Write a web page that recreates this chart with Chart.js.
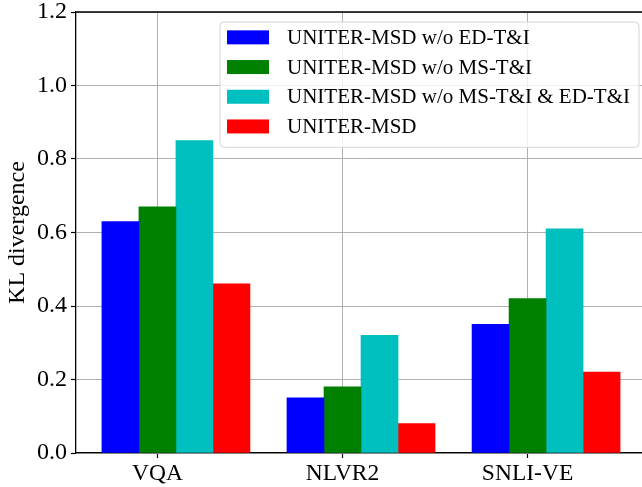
<!DOCTYPE html>
<html><head><meta charset="utf-8">
<script src="https://cdn.jsdelivr.net/npm/chart.js@4.4.0/dist/chart.umd.min.js"></script>
<style>html,body{margin:0;padding:0;overflow:hidden;background:#fff}#wrap{width:662px;height:487px}</style>
</head><body><div id="wrap"><canvas id="c" width="662" height="487"></canvas></div>
<script>
const categories = ['VQA', 'NLVR2', 'SNLI-VE'];
const seriesNames = ['UNITER-MSD w/o ED-T&I', 'UNITER-MSD w/o MS-T&I', 'UNITER-MSD w/o MS-T&I & ED-T&I', 'UNITER-MSD'];
const woED = [0.63, 0.15, 0.35];
const woMS = [0.67, 0.18, 0.42];
const woBoth = [0.85, 0.32, 0.61];
const full = [0.46, 0.08, 0.22];
const yTicks = [0.0, 0.2, 0.4, 0.6, 0.8, 1.0, 1.2];

const seriesValues = [woED, woMS, woBoth, full];
const colors = ['#0000ff', '#008000', '#00bfbf', '#ff0000'];
const FONT = '"Liberation Serif", "Times New Roman", serif';
const barW = 0.2;

Chart.defaults.font.family = FONT;
Chart.defaults.color = '#000';

const datasets = seriesValues.map((vals, k) => ({
  label: seriesNames[k],
  data: vals.map((v, i) => ({ x: i + (k - 1) * barW, y: v })),
  backgroundColor: colors[k],
  borderWidth: 0,
  grouped: false,
  barPercentage: 1,
  categoryPercentage: 1
}));

const framePlugin = {
  id: 'frame',
  afterDraw(chart) {
    const { ctx, chartArea: a } = chart;
    ctx.save();
    ctx.strokeStyle = '#000';
    ctx.lineWidth = 1.3;
    ctx.beginPath();
    ctx.moveTo(a.left, a.top); ctx.lineTo(a.right, a.top); ctx.lineTo(a.right, a.bottom);
    ctx.stroke();
    // legend
    ctx.font = '21px ' + FONT;
    const names = chart.data.datasets.map(d => d.label);
    const tw = Math.max(...names.map(n => ctx.measureText(n).width));
    const padL = 7, sw = 42, sh = 14, gap = 18, padR = 9, rowH = 29.7, padT = 0.5, padB = 6;
    const w = padL + sw + gap + tw + padR;
    const h = padT + rowH * names.length + padB;
    const x0 = a.right - 7 - w, y0 = a.top + 10;
    ctx.beginPath();
    ctx.roundRect(x0, y0, w, h, 4);
    ctx.fillStyle = 'rgba(255,255,255,0.8)';
    ctx.fill();
    ctx.strokeStyle = '#d5d5d5';
    ctx.lineWidth = 1;
    ctx.stroke();
    ctx.textBaseline = 'middle';
    ctx.textAlign = 'left';
    names.forEach((n, k) => {
      const cy = y0 + padT + rowH * (k + 0.5);
      ctx.fillStyle = chart.data.datasets[k].backgroundColor;
      ctx.fillRect(x0 + padL, cy - sh / 2, sw, sh);
      ctx.fillStyle = '#000';
      ctx.fillText(n, x0 + padL + sw + gap, cy + 1);
    });
    ctx.restore();
  }
};

new Chart(document.getElementById('c'), {
  type: 'bar',
  data: { datasets },
  plugins: [framePlugin],
  options: {
    responsive: false,
    animation: false,
    events: [],
    layout: { padding: { left: 0, top: 12, right: 16, bottom: 0 } },
    plugins: { legend: { display: false }, tooltip: { enabled: false } },
    scales: {
      x: {
        type: 'linear',
        min: -0.3 - 0.14,
        max: 2.5 + 0.14,
        offset: false,
        z: 1,
        afterBuildTicks: s => { s.ticks = categories.map((_, i) => ({ value: i })); },
        afterFit: s => { s.height = 34; s.paddingLeft = 0; s.paddingRight = 0; },
        ticks: { callback: v => categories[v], font: { size: 23.5 }, padding: 2, maxRotation: 0, autoSkip: false },
        grid: { color: '#b0b0b0', lineWidth: 1, offset: false, tickLength: 5, tickColor: '#000', tickWidth: 1.2 },
        border: { color: '#000', width: 1.3 }
      },
      y: {
        min: 0,
        max: 1.2,
        z: 1,
        afterBuildTicks: s => { s.ticks = yTicks.map(v => ({ value: v })); },
        afterFit: s => { s.width = 76; s.paddingTop = 0; s.paddingBottom = 0; },
        ticks: { callback: v => v.toFixed(1), font: { size: 24 }, padding: 4 },
        grid: { color: '#b0b0b0', lineWidth: 1, tickLength: 5, tickColor: '#000', tickWidth: 1.2 },
        border: { color: '#000', width: 1.3 },
        title: { display: true, text: 'KL divergence', font: { size: 24 }, padding: { top: 3, bottom: 0 } }
      }
    }
  }
});
</script></body></html>
